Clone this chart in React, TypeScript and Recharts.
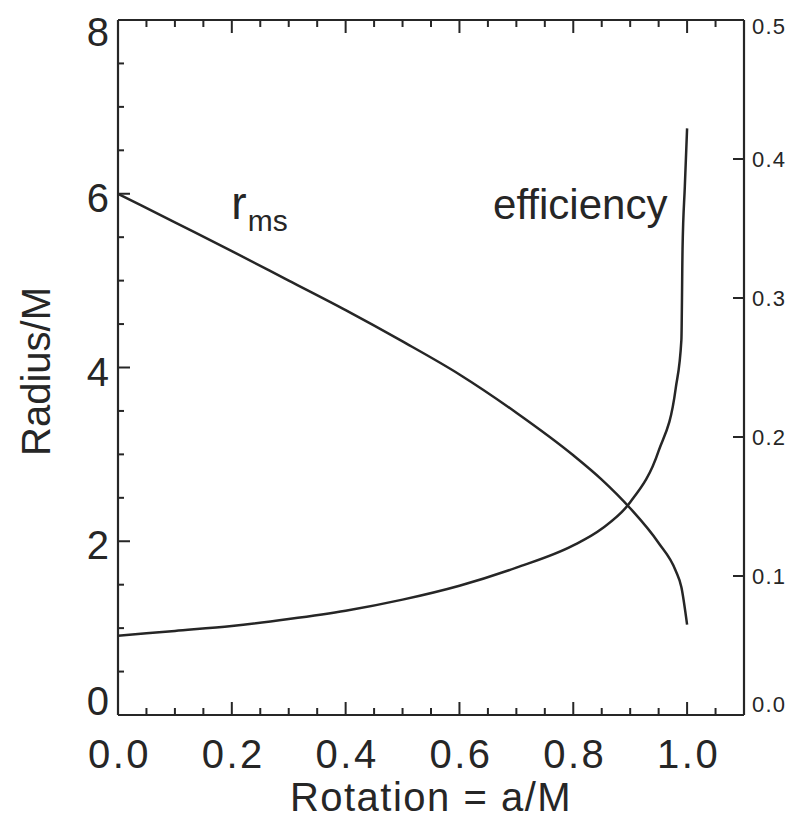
import React from 'react';
import { LineChart, Line, XAxis, YAxis, ReferenceDot } from 'recharts';

// ---- data ----
const rmsSpin = [0, 0.1, 0.2, 0.3, 0.4, 0.5, 0.6, 0.7, 0.8, 0.85, 0.9, 0.95, 0.98, 0.99, 1.0];
const rmsRadius = [6.0, 5.67, 5.34, 5.0, 4.66, 4.3, 3.92, 3.48, 2.99, 2.71, 2.38, 1.98, 1.66, 1.47, 1.04];

const effSpin = [0, 0.1, 0.2, 0.3, 0.4, 0.5, 0.6, 0.7, 0.8, 0.85, 0.9, 0.95, 0.98, 0.99, 0.992, 0.996, 1.0];
const effValue = [0.057, 0.0605, 0.064, 0.069, 0.075, 0.083, 0.093, 0.106, 0.122, 0.134, 0.153, 0.19, 0.235, 0.27, 0.335, 0.38, 0.422];

const spinTicks = [0, 0.05, 0.1, 0.15, 0.2, 0.25, 0.3, 0.35, 0.4, 0.45, 0.5, 0.55, 0.6, 0.65, 0.7, 0.75, 0.8, 0.85, 0.9, 0.95, 1.0, 1.05, 1.1];
const spinLabels = [0, 0.2, 0.4, 0.6, 0.8, 1.0];
const radiusTicks = [0, 0.5, 1, 1.5, 2, 2.5, 3, 3.5, 4, 4.5, 5, 5.5, 6, 6.5, 7, 7.5, 8];
const radiusLabels = [0, 2, 4, 6, 8];
const effTicks = [0, 0.1, 0.2, 0.3, 0.4, 0.5];

const xTitle = 'Rotation = a/M';
const yTitle = 'Radius/M';
const rmsName = 'r';
const rmsSub = 'ms';
const effName = 'efficiency';

const rmsData = rmsSpin.map((a, i) => ({ a, r: rmsRadius[i] }));
const effData = effSpin.map((a, i) => ({ a, eta: effValue[i] }));

const FONT = '"Liberation Sans", Arial, Helvetica, sans-serif';
const INK = '#262626';
const has = (arr: number[], v: number) => arr.some((l) => Math.abs(l - v) < 1e-9);

const BottomTick = (props: any) => {
  const { x, y, payload } = props;
  const v = payload.value;
  const major = has(spinLabels, v);
  return (
    <g>
      <line x1={x} x2={x} y1={y} y2={y - (major ? 13 : 7)} stroke={INK} strokeWidth={2} />
      {major && (
        <text x={x + 1.5} y={y + 53} textAnchor="middle" fontFamily={FONT} fontSize={40} letterSpacing={2.5} fill={INK}>
          {v.toFixed(1)}
        </text>
      )}
    </g>
  );
};

const TopTick = (props: any) => {
  const { x, y, payload } = props;
  const major = has(spinLabels, payload.value);
  return <line x1={x} x2={x} y1={y} y2={y + (major ? 13 : 7)} stroke={INK} strokeWidth={2} />;
};

const LeftTick = (props: any) => {
  const { x, y, payload } = props;
  const v = payload.value;
  const major = has(radiusLabels, v);
  const off = v === 8 ? 12 : v === 0 ? -14 : 4;
  return (
    <g>
      <line x1={x} x2={x + (major ? 12 : 6)} y1={y} y2={y} stroke={INK} strokeWidth={2} />
      {major && (
        <text x={x - 9} y={y + off + 14} textAnchor="end" fontFamily={FONT} fontSize={40} fill={INK}>
          {String(v)}
        </text>
      )}
    </g>
  );
};

const RightTick = (props: any) => {
  const { x, y, payload } = props;
  const v = payload.value;
  const off = Math.abs(v - 0.5) < 1e-9 ? 6 : v === 0 ? -11 : 0;
  return (
    <g>
      <line x1={x} x2={x - 11} y1={y} y2={y} stroke={INK} strokeWidth={2} />
      <text x={x + 8} y={y + off + 8} textAnchor="start" fontFamily={FONT} fontSize={22} letterSpacing={1.2} fill={INK}>
        {v.toFixed(1)}
      </text>
    </g>
  );
};

const XTitle = (props: any) => {
  const vb = props.viewBox || { x: 110, y: 707, width: 626, height: 60 };
  return (
    <text x={vb.x + vb.width / 2} y={vb.y + 96} textAnchor="middle" fontFamily={FONT} fontSize={40} letterSpacing={1.5} fill={INK}>
      {xTitle}
    </text>
  );
};

const YTitle = (props: any) => {
  const vb = props.viewBox || { x: 10, y: 12, width: 100, height: 695 };
  const cx = vb.x + 32;
  const cy = vb.y + vb.height / 2 + 4;
  return (
    <text x={cx} y={cy} transform={`rotate(-90, ${cx}, ${cy})`} textAnchor="middle" fontFamily={FONT} fontSize={40} fill={INK}>
      {yTitle}
    </text>
  );
};

const RmsLabel = (props: any) => {
  const vb = props.viewBox || { x: 0, y: 0 };
  return (
    <text x={vb.x} y={vb.y} fontFamily={FONT} fill={INK}>
      <tspan fontSize={46}>{rmsName}</tspan>
      <tspan fontSize={30} dx={1} dy={12}>{rmsSub}</tspan>
    </text>
  );
};

const EffLabel = (props: any) => {
  const vb = props.viewBox || { x: 0, y: 0 };
  return (
    <text x={vb.x} y={vb.y} fontFamily={FONT} fontSize={42} fill={INK}>
      {effName}
    </text>
  );
};

export default function App() {
  return (
    <div style={{ width: 788, height: 812, marginBottom: -8 }}>
      <LineChart width={788} height={812} margin={{ top: 2, right: 8, bottom: 45, left: 10 }}>
        <XAxis
          xAxisId="bottom"
          type="number"
          dataKey="a"
          domain={[0, 1.1]}
          ticks={spinTicks}
          interval={0}
          allowDataOverflow
          height={60}
          tickSize={0}
          tickMargin={0}
          tickLine={false}
          tick={<BottomTick />}
          axisLine={{ stroke: INK, strokeWidth: 2.2 }}
          label={<XTitle />}
        />
        <XAxis
          xAxisId="top"
          orientation="top"
          type="number"
          dataKey="a"
          domain={[0, 1.1]}
          ticks={spinTicks}
          interval={0}
          allowDataOverflow
          height={10}
          tickSize={0}
          tickMargin={0}
          tickLine={false}
          tick={<TopTick />}
          axisLine={{ stroke: INK, strokeWidth: 2.2 }}
        />
        <YAxis
          yAxisId="left"
          type="number"
          domain={[0, 8]}
          ticks={radiusTicks}
          interval={0}
          allowDataOverflow
          width={100}
          tickSize={0}
          tickMargin={0}
          tickLine={false}
          tick={<LeftTick />}
          axisLine={{ stroke: INK, strokeWidth: 2.2 }}
          label={<YTitle />}
        />
        <YAxis
          yAxisId="right"
          orientation="right"
          type="number"
          domain={[0, 0.5]}
          ticks={effTicks}
          interval={0}
          allowDataOverflow
          width={44}
          tickSize={0}
          tickMargin={0}
          tickLine={false}
          tick={<RightTick />}
          axisLine={{ stroke: INK, strokeWidth: 2.2 }}
        />
        <Line
          data={rmsData}
          xAxisId="bottom"
          yAxisId="left"
          dataKey="r"
          type="monotone"
          stroke={INK}
          strokeWidth={2.5}
          dot={false}
          activeDot={false}
          isAnimationActive={false}
        />
        <Line
          data={effData}
          xAxisId="top"
          yAxisId="right"
          dataKey="eta"
          type="monotone"
          stroke={INK}
          strokeWidth={2.5}
          dot={false}
          activeDot={false}
          isAnimationActive={false}
        />
        <ReferenceDot xAxisId="bottom" yAxisId="left" x={0.2} y={5.7} r={0.5} fill="none" stroke="none" label={<RmsLabel />} />
        <ReferenceDot xAxisId="bottom" yAxisId="left" x={0.66} y={5.7} r={0.5} fill="none" stroke="none" label={<EffLabel />} />
      </LineChart>
    </div>
  );
}
